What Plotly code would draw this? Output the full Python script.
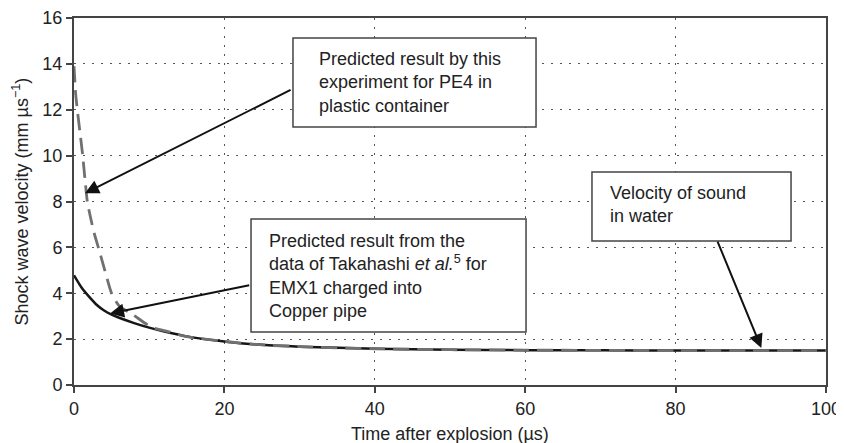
import plotly.graph_objects as go

# ---- data ----
time_emx1 = [0, 1, 2, 3, 4, 5, 6, 8, 10, 12, 15, 20, 25, 30, 40, 50, 60, 70, 80, 90, 100]
vel_emx1 = [4.78, 4.25, 3.85, 3.5, 3.25, 3.07, 2.93, 2.7, 2.5, 2.33, 2.12, 1.9, 1.75, 1.67, 1.58, 1.54, 1.52, 1.51, 1.5, 1.5, 1.5]

time_pe4 = [0, 0.22, 0.44, 0.8, 1.16, 1.45, 1.77, 2.2, 2.7, 3.24, 4.1, 5.0, 6.0, 7.9, 10.3, 12.3, 14.8, 20, 25, 30, 40, 50, 60, 70, 80, 90, 100]
vel_pe4 = [13.9, 12.7, 12, 11, 10, 9, 8, 7.3, 6.6, 6, 5, 4, 3.45, 3.05, 2.52, 2.35, 2.12, 1.9, 1.75, 1.67, 1.58, 1.54, 1.52, 1.51, 1.5, 1.5, 1.5]

x_ticks = [0, 20, 40, 60, 80, 100]
y_ticks = [0, 2, 4, 6, 8, 10, 12, 14, 16]

FONT = "Liberation Sans, Arial, sans-serif"
TXT = "#222222"

fig = go.Figure()
fig.add_trace(go.Scatter(x=time_emx1, y=vel_emx1, mode="lines", line_shape="spline",
                         line=dict(color="#161616", width=2.5, smoothing=0.6), showlegend=False))
fig.add_trace(go.Scatter(x=time_pe4, y=vel_pe4, mode="lines", line_shape="spline",
                         line=dict(color="#707070", width=2.8, dash="16px,8px", smoothing=0.6),
                         showlegend=False))

axis_common = dict(showline=True, mirror=True, linecolor="#444444", linewidth=2,
                   ticks="outside", ticklen=6, tickcolor="#444444", tickwidth=1.5,
                   showgrid=True, gridcolor="#555555", gridwidth=1, griddash="2px,7px",
                   zeroline=False, automargin=False,
                   tickfont=dict(family=FONT, size=18, color=TXT))

fig.update_xaxes(range=[0, 100], tickvals=x_ticks, **axis_common)
fig.update_yaxes(range=[0, 16], tickvals=y_ticks, **axis_common)

# annotation boxes (paper coords)
boxes = [
    (0.2912, 0.6144, 0.703, 0.9455),
    (0.2354, 0.6011, 0.1444, 0.4523),
    (0.6888, 0.9535, 0.3924, 0.5804),
]
for x0, x1, y0, y1 in boxes:
    fig.add_shape(type="rect", xref="paper", yref="paper", x0=x0, x1=x1, y0=y0, y1=y1,
                  line=dict(color="#444444", width=1.5), fillcolor="white", layer="above")

texts = [
    (0.3231, 0.824, "Predicted result by this<br>experiment for PE4 in<br>plastic container"),
    (0.2566, 0.298, "Predicted result from the<br>data of Takahashi <i>et al.</i><sup>5</sup> for<br>EMX1 charged into<br>Copper pipe"),
    (0.7101, 0.4905, "Velocity of sound<br>in water"),
]
for x, y, t in texts:
    fig.add_annotation(x=x, y=y, xref="paper", yref="paper", text=t, showarrow=False,
                       xanchor="left", yanchor="middle", align="left",
                       font=dict(family=FONT, size=18, color=TXT))

# arrows (tip, tail in data coords)
arrows = [
    ((1.46, 8.36), (29.0, 12.9)),
    ((4.79, 3.12), (23.5, 4.36)),
    ((91.4, 1.61), (85.5, 6.32)),
]
for (tx, ty), (ax, ay) in arrows:
    fig.add_annotation(x=tx, y=ty, ax=ax, ay=ay, xref="x", yref="y", axref="x", ayref="y",
                       text="", showarrow=True, arrowhead=2, arrowsize=1.4, arrowwidth=2,
                       arrowcolor="#111111", standoff=0)

# axis titles
fig.add_annotation(x=0.5, y=-0.1335, xref="paper", yref="paper", showarrow=False,
                   text="Time after explosion (µs)", xanchor="center", yanchor="middle",
                   font=dict(family=FONT, size=18, color=TXT))
fig.add_annotation(x=-0.0705, y=0.5, xref="paper", yref="paper", showarrow=False,
                   text="Shock wave velocity (mm µs<sup>−1</sup>)", textangle=-90,
                   xanchor="center", yanchor="middle",
                   font=dict(family=FONT, size=18, color=TXT))

# page body has an 8px default margin; compensate so the plot lands where the reference has it
fig.update_layout(width=836, height=435,
                  margin=dict(l=66, r=18, t=10, b=58, autoexpand=False),
                  plot_bgcolor="white", paper_bgcolor="white")

fig.write_html("out.html")
